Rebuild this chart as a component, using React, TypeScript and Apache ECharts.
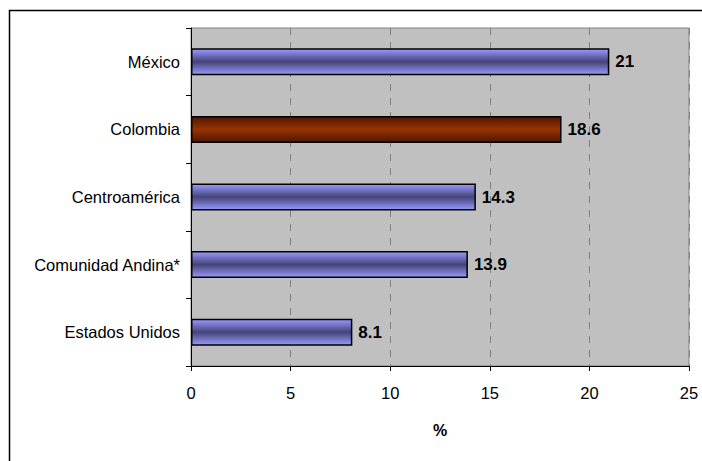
import React, { useEffect, useRef } from "react";
import * as echarts from "echarts";

const categories = ["Estados Unidos", "Comunidad Andina*", "Centroamérica", "Colombia", "México"];
const values = [8.1, 13.9, 14.3, 18.6, 21];
const highlighted = "Colombia";
const xTicks = { min: 0, max: 25, interval: 5 };
const axisName = "%";

const blueGrad = () =>
  new echarts.graphic.LinearGradient(0, 0, 0, 1, [
    { offset: 0, color: "#9999ff" },
    { offset: 0.5, color: "#444478" },
    { offset: 1, color: "#9999ff" },
  ]);
const redGrad = () =>
  new echarts.graphic.LinearGradient(0, 0, 0, 1, [
    { offset: 0, color: "#4d1600" },
    { offset: 0.5, color: "#993300" },
    { offset: 1, color: "#4d1600" },
  ]);

export default function App() {
  const ref = useRef<HTMLDivElement>(null);
  useEffect(() => {
    document.body.style.margin = "0";
    const chart = echarts.init(ref.current!, null, { renderer: "svg" });
    const font = "'Liberation Sans', Arial, sans-serif";
    chart.setOption({
      animation: false,
      textStyle: { fontFamily: font },
      graphic: [
        {
          type: "rect",
          shape: { x: 9.5, y: 10.5, width: 900, height: 600 },
          style: { fill: "none", stroke: "#000", lineWidth: 1.5 },
          z: 100,
        },
      ],
      grid: { left: 191, top: 28, right: 13, bottom: 95, show: true, backgroundColor: "#c0c0c0", borderColor: "#808080", borderWidth: 1 },
      xAxis: {
        type: "value",
        min: xTicks.min,
        max: xTicks.max,
        interval: xTicks.interval,
        name: axisName,
        nameLocation: "middle",
        nameGap: 56,
        nameTextStyle: { fontWeight: "bold", fontSize: 16, color: "#000", fontFamily: font },
        axisLine: { show: true, lineStyle: { color: "#000", width: 1 } },
        axisTick: { show: true, length: 5, lineStyle: { color: "#000" } },
        axisLabel: { color: "#000", fontSize: 16.5, margin: 18, fontFamily: font },
        splitLine: { show: true, lineStyle: { color: "#808080", type: [7, 7], width: 1 } },
      },
      yAxis: {
        type: "category",
        data: categories,
        axisLine: { show: true, lineStyle: { color: "#000", width: 1 } },
        axisTick: { show: true, length: 5, lineStyle: { color: "#000" } },
        axisLabel: { color: "#000", fontSize: 16.5, margin: 11, fontFamily: font },
        splitLine: { show: false },
      },
      series: [
        {
          type: "bar",
          barWidth: "40%",
          data: values.map((v, i) => ({
            value: v,
            itemStyle: {
              color: categories[i] === highlighted ? redGrad() : blueGrad(),
              borderColor: "#000",
              borderWidth: 1.5,
            },
          })),
          label: {
            show: true,
            position: "right",
            distance: 6,
            color: "#000",
            fontWeight: "bold",
            fontSize: 17,
            fontFamily: font,
          },
        },
      ],
    });
    return () => chart.dispose();
  }, []);
  return <div ref={ref} style={{ width: 702, height: 461 }} />;
}
